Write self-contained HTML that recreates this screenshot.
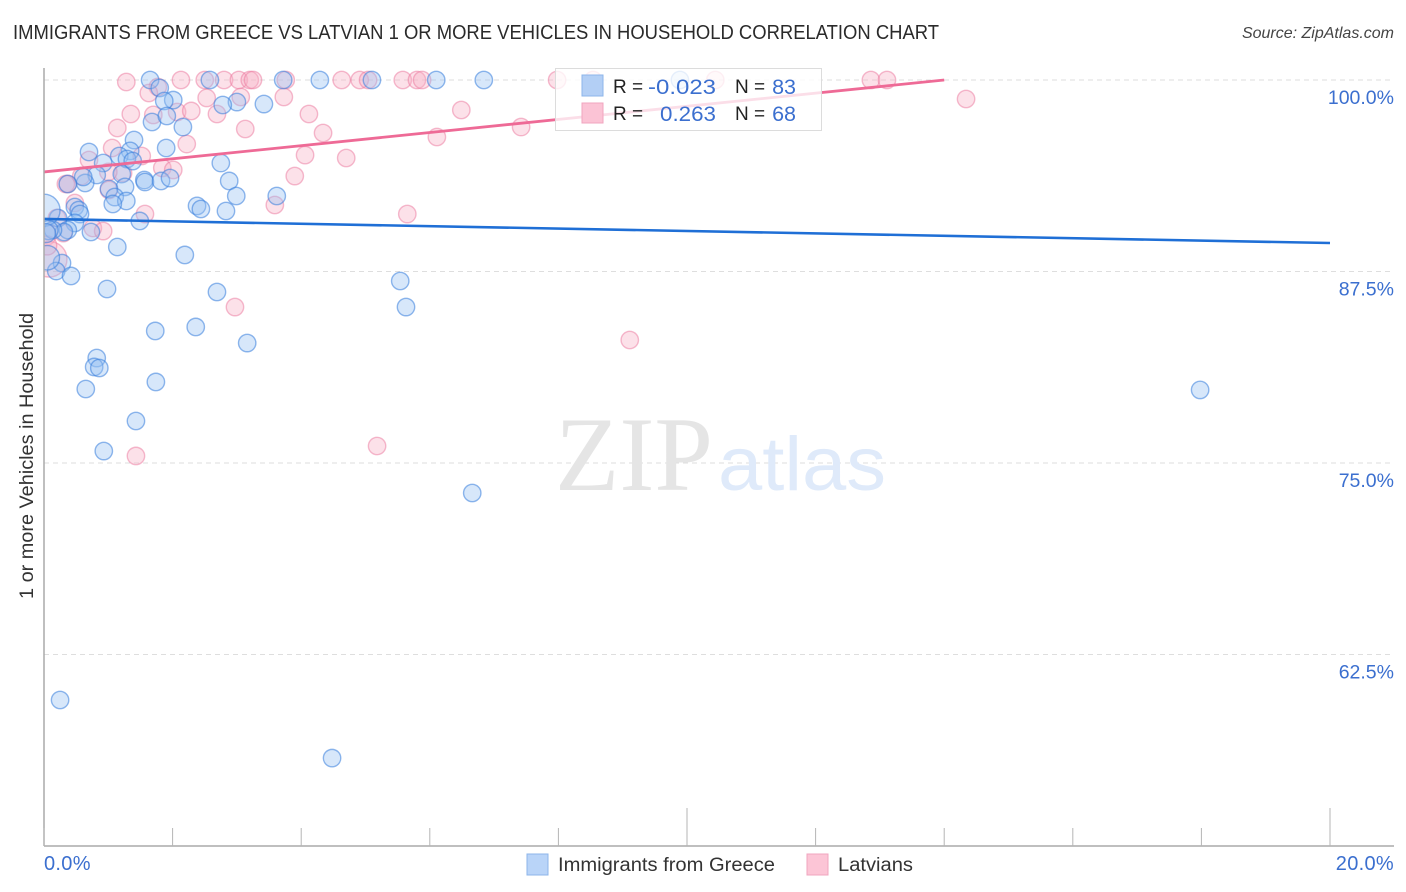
<!DOCTYPE html>
<html lang="en">
<head>
<meta charset="utf-8">
<title>Immigrants from Greece vs Latvian 1 or more Vehicles in Household Correlation Chart</title>
<style>
html,body{margin:0;padding:0;background:#fff;}
svg{display:block;font-family:"Liberation Sans",sans-serif;}
</style>
</head>
<body>
<svg id="chart" xmlns="http://www.w3.org/2000/svg" width="1406" height="892" viewBox="0 0 1406 892">
  <defs><clipPath id="plot-clip"><rect x="44" y="60" width="1350" height="786"></rect></clipPath></defs>
  <text x="13" y="39" font-size="20" fill="#2a2a2a" textLength="926" lengthAdjust="spacingAndGlyphs">IMMIGRANTS FROM GREECE VS LATVIAN 1 OR MORE VEHICLES IN HOUSEHOLD CORRELATION CHART</text>
  <text x="1394" y="38" font-size="16" font-style="italic" fill="#444" text-anchor="end">Source: ZipAtlas.com</text>
  <g id="grid"></g>
  <g>
    <text x="555" y="490" font-family="'Liberation Serif',serif" font-size="106" fill="#e5e5e5" textLength="158" lengthAdjust="spacingAndGlyphs">ZIP</text>
    <text x="718" y="490" font-size="76" fill="#dfeafa" textLength="168" lengthAdjust="spacingAndGlyphs">atlas</text>
  </g>
  <g id="points" clip-path="url(#plot-clip)"></g>
  <g id="trends"></g>
  <g id="axes">
    <line x1="44" y1="68" x2="44" y2="846" stroke="#aaa" stroke-width="1.5"></line>
    <line x1="44" y1="846" x2="1394" y2="846" stroke="#aaa" stroke-width="1.5"></line>
  </g>
  <g id="tick-labels"></g>
  <text transform="translate(33,456) rotate(-90)" font-size="19" fill="#333" text-anchor="middle" textLength="286" lengthAdjust="spacingAndGlyphs">1 or more Vehicles in Household</text>
  <g>
    <rect x="555.5" y="68.5" width="266" height="62" fill="#fff" fill-opacity="0.78" stroke="#dcdcdc" stroke-width="1"></rect>
    <rect x="582" y="75" width="21" height="21" fill="#b3cff5" stroke="#8db5ea" stroke-width="1"></rect>
    <rect x="582" y="103" width="21" height="20" fill="#fbc3d5" stroke="#f0a5bf" stroke-width="1"></rect>
    <text x="613" y="93" font-size="19" fill="#222">R =</text>
    <text x="716" y="94" font-size="21.5" fill="#3b6fcf" text-anchor="end" textLength="68" lengthAdjust="spacingAndGlyphs">-0.023</text>
    <text x="735" y="93" font-size="19" fill="#222">N =</text>
    <text x="796" y="94" font-size="21.5" fill="#3b6fcf" text-anchor="end">83</text>
    <text x="613" y="120" font-size="19" fill="#222">R =</text>
    <text x="716" y="121" font-size="21.5" fill="#3b6fcf" text-anchor="end" textLength="56" lengthAdjust="spacingAndGlyphs">0.263</text>
    <text x="735" y="120" font-size="19" fill="#222">N =</text>
    <text x="796" y="121" font-size="21.5" fill="#3b6fcf" text-anchor="end">68</text>
  </g>
  <g>
    <rect x="527" y="854" width="21" height="21" fill="#b9d4f8" stroke="#8db5ea" stroke-width="1"></rect>
    <text x="558" y="871" font-size="19" fill="#333" textLength="217" lengthAdjust="spacingAndGlyphs">Immigrants from Greece</text>
    <rect x="807" y="854" width="21" height="21" fill="#fcc5d6" stroke="#f0a5bf" stroke-width="1"></rect>
    <text x="838" y="871" font-size="19" fill="#333" textLength="75" lengthAdjust="spacingAndGlyphs">Latvians</text>
  </g>
</svg>
<script>
const greeceX = [1.65,2.58,3.72,4.29,5.10,6.10,6.84,9.89,1.80,2.01,1.87,3.00,2.78,3.42,1.68,1.91,2.16,1.40,1.90,0.70,1.34,1.17,0.92,1.29,1.38,2.75,1.21,0.82,0.64,0.61,0.37,1.56,1.57,1.82,1.96,2.88,1.26,1.01,1.10,1.28,1.07,2.99,3.62,2.38,2.44,2.83,0.48,0.54,0.56,0.22,1.49,0.48,0.37,0.31,0.73,0.14,1.14,2.19,0.28,0.19,0.42,0.98,2.69,5.54,5.63,1.73,2.36,3.16,0.82,0.78,0.86,1.74,0.65,1.43,0.93,6.66,17.98,0.25,4.48];
const greeceY = [100,100,100,100,100,100,100,100,99.48,98.69,98.63,98.56,98.37,98.43,97.26,97.65,96.93,96.08,95.56,95.30,95.37,95.04,94.58,94.84,94.71,94.58,93.86,93.80,93.28,93.67,93.21,93.47,93.34,93.41,93.60,93.41,93.02,92.89,92.36,92.10,91.91,92.43,92.43,91.78,91.58,91.45,91.71,91.51,91.25,90.99,90.80,90.67,90.21,90.08,90.08,90.21,89.10,88.58,88.05,87.53,87.21,86.36,86.16,86.88,85.18,83.62,83.88,82.83,81.85,81.27,81.20,80.29,79.83,77.74,75.78,73.04,79.77,59.53,55.74];
const greeceLargeX = [0.0,0.05,0.07,0.03];
const greeceLargeY = [91.5,88.4,90.2,90.0];
const greeceLargeWeight = [3.4,2.0,1.2,1.2];

const latvianX = [1.28,2.13,2.50,2.80,3.03,3.20,3.25,3.76,4.63,4.91,5.04,5.58,5.80,5.88,7.98,8.54,10.44,12.86,13.11,1.77,1.63,2.53,3.06,3.73,14.34,1.35,1.70,2.07,2.29,2.69,4.12,6.49,1.14,3.13,4.34,7.42,6.11,2.22,1.06,0.70,1.52,4.70,4.06,3.90,1.84,2.01,1.23,1.00,0.58,0.37,0.34,1.01,0.48,3.59,1.57,0.20,0.76,0.92,0.30,5.65,9.11,5.18,1.43,2.97];
const latvianY = [99.87,100,100,100,100,100,100,100,100,100,100,100,100,100,100,100,100,100,100,99.54,99.15,98.83,98.89,98.89,98.76,97.78,97.72,97.91,97.98,97.78,97.78,98.04,96.87,96.80,96.54,96.93,96.28,95.82,95.56,94.78,95.04,94.91,95.10,93.73,94.26,94.13,93.93,94.00,93.73,93.21,93.21,92.82,91.97,91.84,91.25,90.99,90.34,90.14,90.01,91.25,83.03,76.11,75.46,85.18];
const latvianLargeX = [0.02,0.08,0.05];
const latvianLargeY = [89.9,88.3,89.2];
const latvianLargeWeight = [1.6,4.2,1.2];

const greeceTrendX = [0,20];
const greeceTrendY = [90.93,89.36];
const latvianTrendX = [0,14.0];
const latvianTrendY = [94.0,100];

const yGridValues = [100,87.5,75,62.5];
const yTickLabels = ["100.0%","87.5%","75.0%","62.5%"];
const xTickValues = [0,2,4,6,8,10,12,14,16,18,20];
const xMajorTicks = [10,20];
const xEdgeValues = [0,20];
const xEdgeLabels = ["0.0%","20.0%"];

const NS = "http://www.w3.org/2000/svg";
function xScale(v){ return 44 + v * 64.3; }
function yScale(v){ return 80 + (100 - v) * 15.32; }
function radius(w){ return 8.7 * Math.sqrt(w); }
function make(tag, attrs, parent){
  const el = document.createElementNS(NS, tag);
  for (const k in attrs) el.setAttribute(k, attrs[k]);
  parent.appendChild(el);
  return el;
}

const gridG = document.getElementById("grid");
yGridValues.forEach(function(v){
  const el = make("line", {x1:44, x2:1394, y1:yScale(v), y2:yScale(v), stroke:"#dedede", "stroke-width":1, "stroke-dasharray":"5 4"}, gridG);
  
  
});

const pointsG = document.getElementById("points");
function drawPoint(xv, yv, w, stroke, fill){
  const c = make("circle", {cx:xScale(xv), cy:yScale(yv), r:radius(w), fill:fill, stroke:stroke, "stroke-width":1.4}, pointsG);
  return c;
}
const BLUE_S = "rgba(55,125,220,0.55)", BLUE_F = "rgba(150,192,242,0.38)";
const PINK_S = "rgba(235,120,158,0.5)", PINK_F = "rgba(248,175,198,0.38)";

latvianX.forEach(function(x, i){
  const c = drawPoint(x, latvianY[i], 1, PINK_S, PINK_F);
  
  
});
latvianLargeX.forEach(function(x, i){
  const c = drawPoint(x, latvianLargeY[i], latvianLargeWeight[i], PINK_S, PINK_F);
  
  
});
greeceX.forEach(function(x, i){
  const c = drawPoint(x, greeceY[i], 1, BLUE_S, BLUE_F);
  
  
});
greeceLargeX.forEach(function(x, i){
  const c = drawPoint(x, greeceLargeY[i], greeceLargeWeight[i], BLUE_S, BLUE_F);
  
  
});

const trendsG = document.getElementById("trends");
const blueLine = make("line", {x1:xScale(greeceTrendX[0]), y1:yScale(greeceTrendY[0]), x2:xScale(greeceTrendX[1]), y2:yScale(greeceTrendY[1]), stroke:"#1f6fd6", "stroke-width":2.6}, trendsG);


const pinkLine = make("line", {x1:xScale(latvianTrendX[0]), y1:yScale(latvianTrendY[0]), x2:xScale(latvianTrendX[1]), y2:yScale(latvianTrendY[1]), stroke:"#ee6a96", "stroke-width":2.8}, trendsG);



const axesG = document.getElementById("axes");
xTickValues.forEach(function(v){
  const top = xMajorTicks.indexOf(v) >= 0 ? 808 : 828;
  const t = make("line", {x1:xScale(v), x2:xScale(v), y1:top, y2:846, stroke:"#b5b5b5", "stroke-width":1}, axesG);
  
  
});

const labelsG = document.getElementById("tick-labels");
yGridValues.forEach(function(v, i){
  const t = make("text", {x:1394, y:yScale(v) + 24, "font-size":19.5, fill:"#3b6fcf", "text-anchor":"end"}, labelsG);
  t.textContent = yTickLabels[i];
  
  
});
xEdgeValues.forEach(function(v, i){
  const t = make("text", {x: i === 0 ? xScale(v) : 1394, y:870, "font-size":20, "letter-spacing":0.3, fill:"#3b6fcf", "text-anchor": i === 0 ? "start" : "end"}, labelsG);
  t.textContent = xEdgeLabels[i];
  
  
});
</script>
</body>
</html>
